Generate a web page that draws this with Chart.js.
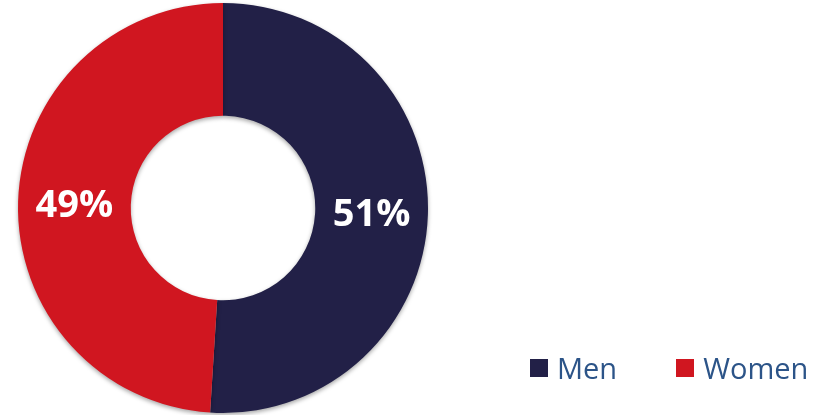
<!DOCTYPE html>
<html>
<head>
<meta charset="utf-8">
<script src="https://cdn.jsdelivr.net/npm/chart.js@4/dist/chart.umd.min.js"></script>
<style>
    html, body { margin: 0; padding: 0; background: #ffffff; }
    #wrap { position: relative; width: 818px; height: 415px; }
    #legend {
        position: absolute; left: 530px; top: 348px;
        display: flex; align-items: center;
        font-family: 'Open Sans', sans-serif; font-size: 29px; color: #2c5488;
    }
    .item { display: flex; align-items: center; margin-right: 59px; }
    .box { width: 18px; height: 18px; margin-right: 9px; }
</style>
</head>
<body>
<div id="wrap">
    <canvas id="genderChart" width="818" height="415"></canvas>
    <div id="legend"></div>
</div>
<script>
const labels = ['Men', 'Women'];
const shares = [51, 49];
const colors = ['#222047', '#d01620'];

// soft drop shadow under the ring
const ringShadow = {
    id: 'ringShadow',
    beforeDatasetsDraw(chart) {
        const ctx = chart.ctx;
        ctx.save();
        ctx.shadowColor = 'rgba(0, 0, 0, 0.35)';
        ctx.shadowBlur = 4;
        ctx.shadowOffsetY = 2;
    },
    afterDatasetsDraw(chart) {
        chart.ctx.restore();
    }
};

// percentage text in the middle of each slice
const sliceLabels = {
    id: 'sliceLabels',
    afterDraw(chart) {
        const ctx = chart.ctx;
        const meta = chart.getDatasetMeta(0);
        ctx.save();
        ctx.fillStyle = '#ffffff';
        ctx.font = 'bold 38px "Open Sans"';
        ctx.textAlign = 'center';
        ctx.textBaseline = 'middle';
        meta.data.forEach((arc, i) => {
            const p = arc.tooltipPosition();
            ctx.fillText(shares[i] + '%', p.x, p.y + 3);
        });
        ctx.restore();
    }
};

new Chart(document.getElementById('genderChart').getContext('2d'), {
    type: 'doughnut',
    data: {
        labels: labels,
        datasets: [{
            data: shares,
            backgroundColor: colors,
            borderWidth: 0,
            hoverOffset: 0
        }]
    },
    options: {
        responsive: false,
        animation: false,
        cutout: '45%',
        layout: { padding: { left: 18, right: 390, top: 3, bottom: 2 } },
        plugins: {
            legend: { display: false },
            tooltip: { enabled: false }
        }
    },
    plugins: [ringShadow, sliceLabels]
});

const legendEl = document.getElementById('legend');
labels.forEach((name, i) => {
    const item = document.createElement('div');
    item.className = 'item';
    item.innerHTML = `<span class="box" style="background:${colors[i]}"></span><span>${name}</span>`;
    legendEl.appendChild(item);
});
</script>
</body>
</html>
